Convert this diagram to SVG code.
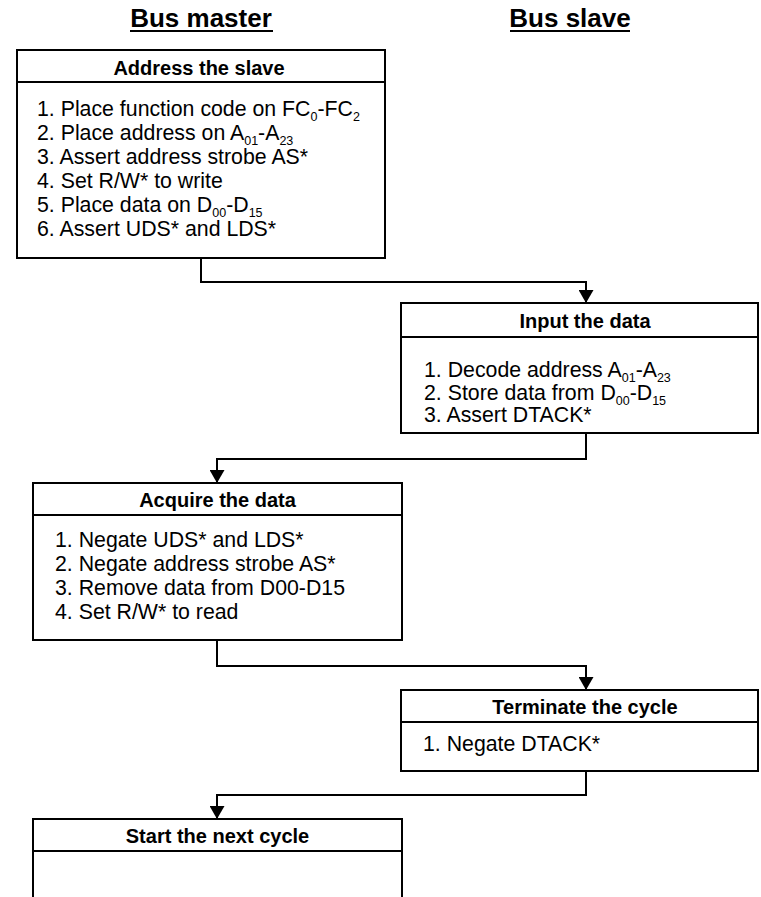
<svg xmlns="http://www.w3.org/2000/svg" width="761" height="897" viewBox="0 0 761 897">
  <style>
    .title { font-family: "Liberation Sans", Arial, sans-serif; font-size: 26px; font-weight: bold; fill: #000; text-anchor: middle; }
    .head { font-family: "Liberation Sans", Arial, sans-serif; font-size: 20px; font-weight: bold; fill: #000; text-anchor: middle; }
    .body { font-family: "Liberation Sans", Arial, sans-serif; font-size: 21.3px; fill: #000; }
    .sub { font-size: 12.5px; }
    .box { fill: #fff; stroke: #000; stroke-width: 2; }
    .rule { stroke: #000; stroke-width: 2; }
    .wire { fill: none; stroke: #000; stroke-width: 2; marker-end: url(#arrow); }
  </style>
  <defs>
    <marker id="arrow" markerUnits="userSpaceOnUse" markerWidth="13" markerHeight="15" viewBox="0 0 13 15" refX="13" refY="7.5" orient="auto">
      <path d="M0,0 L13,7.5 L0,15 z" fill="#000"/>
    </marker>
  </defs>

  <rect width="761" height="897" fill="#fff"/>

  <!-- column titles -->
  <g id="titles">
    <text class="title" x="201" y="27">Bus master</text>
    <line class="rule" x1="130" y1="31" x2="273" y2="31"/>
    <text class="title" x="570" y="27">Bus slave</text>
    <line class="rule" x1="510" y1="31" x2="630" y2="31"/>
  </g>

  <!-- connectors -->
  <g id="connectors">
    <path class="wire" d="M201,258 V282 H586 V303"/>
    <path class="wire" d="M586,433 V459 H217 V483"/>
    <path class="wire" d="M217,640 V666 H586 V690"/>
    <path class="wire" d="M586,771 V795 H217 V819"/>
  </g>

  <g id="address-slave">
    <rect class="box" x="17" y="50" width="368" height="208"/>
    <line class="rule" x1="17" y1="82" x2="385" y2="82"/>
    <text class="head" x="199" y="75">Address the slave</text>
    <text class="body" x="37" y="116">1. Place function code on FC<tspan class="sub" dy="5">0</tspan><tspan dy="-5">-FC</tspan><tspan class="sub" dy="5">2</tspan></text>
    <text class="body" x="37" y="140">2. Place address on A<tspan class="sub" dy="5">01</tspan><tspan dy="-5">-A</tspan><tspan class="sub" dy="5">23</tspan></text>
    <text class="body" x="37" y="164">3. Assert address strobe AS*</text>
    <text class="body" x="37" y="188">4. Set R/W* to write</text>
    <text class="body" x="37" y="212">5. Place data on D<tspan class="sub" dy="5">00</tspan><tspan dy="-5">-D</tspan><tspan class="sub" dy="5">15</tspan></text>
    <text class="body" x="37" y="236">6. Assert UDS* and LDS*</text>
  </g>

  <g id="input-data">
    <rect class="box" x="401" y="303" width="357" height="130"/>
    <line class="rule" x1="401" y1="337" x2="758" y2="337"/>
    <text class="head" x="585" y="328">Input the data</text>
    <text class="body" x="424" y="377">1. Decode address A<tspan class="sub" dy="5">01</tspan><tspan dy="-5">-A</tspan><tspan class="sub" dy="5">23</tspan></text>
    <text class="body" x="424" y="399.5">2. Store data from D<tspan class="sub" dy="5">00</tspan><tspan dy="-5">-D</tspan><tspan class="sub" dy="5">15</tspan></text>
    <text class="body" x="424" y="422">3. Assert DTACK*</text>
  </g>

  <g id="acquire-data">
    <rect class="box" x="33" y="483" width="369" height="157"/>
    <line class="rule" x1="33" y1="515" x2="402" y2="515"/>
    <text class="head" x="217.5" y="507">Acquire the data</text>
    <text class="body" x="55" y="547">1. Negate UDS* and LDS*</text>
    <text class="body" x="55" y="571">2. Negate address strobe AS*</text>
    <text class="body" x="55" y="595">3. Remove data from D00-D15</text>
    <text class="body" x="55" y="619">4. Set R/W* to read</text>
  </g>

  <g id="terminate-cycle">
    <rect class="box" x="401" y="690" width="357" height="81"/>
    <line class="rule" x1="401" y1="722" x2="758" y2="722"/>
    <text class="head" x="585" y="714">Terminate the cycle</text>
    <text class="body" x="423" y="751">1. Negate DTACK*</text>
  </g>

  <g id="next-cycle">
    <path class="box" d="M33,898 V819 H402 V898"/>
    <line class="rule" x1="33" y1="851" x2="402" y2="851"/>
    <text class="head" x="217.5" y="843">Start the next cycle</text>
  </g>
</svg>
